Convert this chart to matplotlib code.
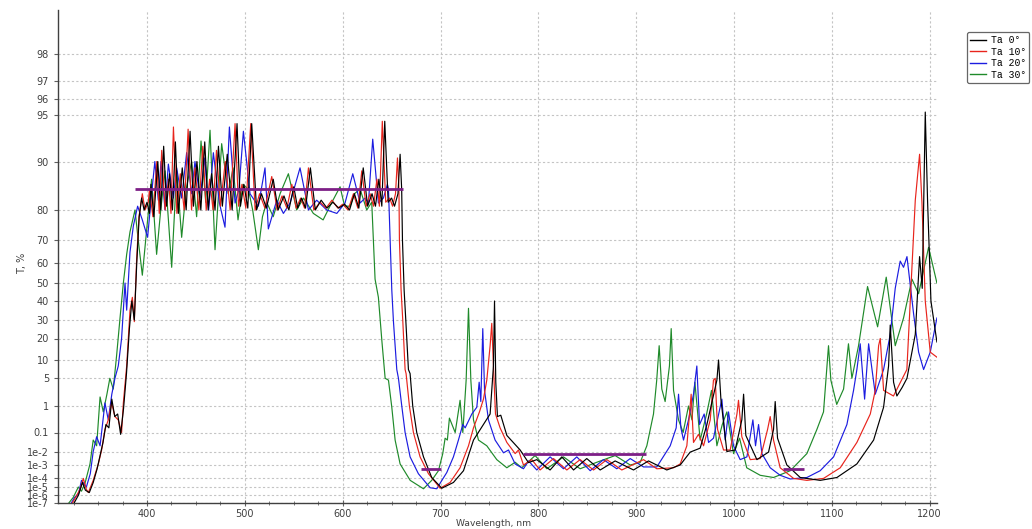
import numpy as np
import matplotlib
matplotlib.use("Agg")
import matplotlib.pyplot as plt
from matplotlib.lines import Line2D

# transmittance spectra (wavelength nm, T %)
ta0 = [(324, 5e-8), (330, 1e-6), (334, 3e-5), (337, 4e-6), (341, 2e-6), (345, 3e-5), (349, 5e-4),
       (352, 5e-3), (355, 0.03), (358, 0.2), (361, 0.15), (364, 1.5), (367, 0.4), (370, 0.5),
       (373, 0.08), (376, 0.8), (379, 6), (382, 25), (384.5, 40), (387, 30), (389.5, 60), (392, 78),
       (394.5, 83), (397, 80), (400, 82), (402.5, 79), (404, 86), (407, 78), (411, 90), (414, 80),
       (417, 92), (420, 81), (423, 88), (426, 80), (429, 92.5), (432, 79), (436, 89), (440, 80),
       (444, 93.6), (447.5, 81), (451, 90), (455, 80), (459, 92.5), (462.5, 80), (466, 88),
       (469.5, 80), (473, 92), (477, 81), (482, 91), (487, 80), (492, 94.3), (495.5, 81), (499, 86),
       (503, 80.5), (507, 94.3), (512, 80), (517, 84), (522, 80.5), (529, 87), (534, 80),
       (540, 83.5), (545, 80), (550, 85.5), (554, 80.5), (558, 83), (562, 80.5), (567, 89),
       (572, 80), (578, 82.5), (584, 80.5), (590, 82), (596, 80.5), (602, 81.5), (607, 80),
       (612, 84), (616.5, 80.5), (621, 89), (625.5, 81), (630, 84), (633.5, 81), (637, 87),
       (640, 81), (643, 94.5), (646.5, 82), (650, 83), (653, 81), (656.5, 84), (658.7, 91),
       (660.3, 85), (661.1, 70), (662.8, 46), (664.5, 30), (667.2, 7), (668.9, 6), (671.6, 1),
       (675.7, 0.1), (682.6, 4e-3), (691, 1e-4), (701.3, 7e-6), (713.2, 3e-5), (723.5, 3.5e-4),
       (733.7, 0.04), (743.9, 0.2), (750.7, 0.5), (754.1, 8), (755.2, 40), (756.5, 4), (758.2, 0.4),
       (761.6, 0.45), (767.8, 0.07), (781.4, 0.012), (789.9, 1.5e-3), (798.4, 2.5e-3), (812, 4e-4),
       (824, 4e-3), (836, 4e-4), (849.5, 3e-3), (863.2, 4e-4), (878.5, 2e-3), (897.3, 4e-4),
       (912.6, 2e-3), (931.3, 4e-4), (945, 1e-3), (955.2, 9e-3), (965.4, 0.015), (972.3, 0.2),
       (982.5, 4.5), (984.2, 10), (986.6, 1.5), (992.7, 0.01), (1001.2, 0.012), (1008, 0.3),
       (1009.8, 2), (1012.1, 0.07), (1023.4, 2.5e-3), (1035.3, 9e-3), (1040.4, 0.13), (1042.1, 1.3),
       (1044.5, 0.05), (1054, 1e-3), (1067.7, 1e-4), (1088.1, 5e-5), (1105.2, 1e-4),
       (1125.6, 1.2e-3), (1142.7, 0.04), (1152.9, 0.9), (1158, 8), (1159.7, 27), (1163.1, 4),
       (1166.5, 1.8), (1172, 3), (1176.8, 5), (1185.3, 22), (1189.7, 63), (1192.4, 47),
       (1195.5, 95.2), (1197.9, 82), (1201.3, 40), (1207.4, 18)]

ta10 = [(322, 5e-8), (327, 5e-7), (331.5, 5e-6), (334.9, 8e-5), (338, 5e-6), (340, 2e-6), (345, 5e-5),
        (350.2, 1.2e-3), (353.6, 0.012), (357, 0.13), (360.4, 0.3), (363.8, 1.2), (367.2, 0.4),
        (370.6, 0.3), (374, 0.1), (375.8, 1.2), (379.2, 8), (382.6, 35), (385, 42), (387, 29),
        (389.4, 62), (391.8, 78), (395.2, 84), (398, 80), (401.3, 82), (402.5, 85), (406, 78),
        (410, 90), (412.5, 79), (415, 91.5), (418.5, 80), (422, 87), (424.5, 79), (427, 94),
        (430.5, 79), (434, 88), (438, 80), (442, 93.8), (445.5, 80), (449, 89), (453, 80), (457, 92),
        (460.5, 80), (464, 87), (467.5, 80), (471, 91.5), (475, 81), (480, 90), (485, 80),
        (490, 94.3), (493.5, 81), (497, 86), (501, 80.5), (506, 94.3), (510.5, 80), (515, 84),
        (520.5, 80.5), (527.5, 87.5), (533, 80), (538, 83.5), (543, 80.5), (548, 86), (552.5, 80.5),
        (557, 83), (561, 80.5), (565, 89), (570.5, 80), (577, 82), (583, 80.5), (589, 82.5),
        (595, 80.5), (600, 81.5), (605.5, 80), (611, 84), (615.5, 80.5), (619.5, 88.5), (624, 81),
        (628, 84), (631.5, 81), (635, 87), (637.5, 81), (640.5, 94.5), (644, 82), (648, 83),
        (651, 81), (654, 84), (656, 90.5), (657.5, 85), (658, 70), (659.7, 46), (661.4, 30),
        (663.8, 7), (664.8, 6), (668.2, 1), (672.3, 0.1), (679.1, 4e-3), (687.7, 2e-4),
        (699.6, 7e-6), (709.8, 3e-5), (720, 6e-4), (728.6, 0.02), (733.7, 0.15), (739.8, 0.6),
        (743.9, 1.5), (747.3, 4.5), (750.7, 16), (752.4, 28), (754.1, 8), (756.2, 0.5),
        (760.9, 0.15), (767.8, 0.03), (776.3, 7e-3), (779.7, 0.012), (784.8, 1e-3), (793.3, 2.5e-3),
        (801.8, 4e-4), (815.5, 3e-3), (829.1, 4e-4), (842.7, 2.5e-3), (856.4, 4e-4), (870, 2.5e-3),
        (885.3, 4e-4), (907.5, 2.5e-3), (921.1, 5e-4), (938.2, 6e-4), (945, 1.2e-3), (951.8, 0.02),
        (956.2, 2), (958.6, 0.03), (963.7, 0.08), (968.9, 0.02), (975.7, 0.3), (979, 4.5),
        (980.8, 5), (983.2, 0.13), (989.3, 0.012), (996.1, 0.012), (1003, 0.5), (1004.6, 1.4),
        (1008, 0.06), (1016.6, 2.5e-3), (1026.8, 3e-3), (1034.3, 0.13), (1037, 0.4), (1040.4, 0.04),
        (1047.2, 6e-4), (1060.9, 8e-5), (1074.5, 5e-5), (1091.5, 8e-5), (1108.6, 6e-4),
        (1125.6, 0.03), (1139.3, 0.5), (1144.4, 2.5), (1147.8, 16), (1149.5, 20), (1152.9, 2.5),
        (1163, 1.8), (1176.7, 7), (1180.2, 40), (1185.3, 82.5), (1189.7, 91), (1192.1, 82),
        (1195.5, 40), (1200.6, 13), (1207.4, 11)]

ta20 = [(321, 5e-8), (326, 5e-7), (330, 1.5e-6), (333, 5e-5), (338, 1e-5), (342, 2e-4), (345, 0.01),
        (348.5, 0.06), (352, 0.02), (357, 1.2), (360.4, 0.3), (364, 2), (367.2, 5), (370.6, 8),
        (374, 20), (377.5, 50), (379.2, 35), (382.6, 65), (386, 75), (390.4, 81), (395.2, 77),
        (400.6, 71), (404.7, 84), (408, 90), (411.5, 82.5), (414.3, 90), (418.4, 80), (421.8, 89.6),
        (426.9, 83), (430.3, 89), (435.4, 83), (440.5, 91.2), (445.6, 84), (449, 90), (454.2, 83),
        (459, 90.5), (463, 80), (467.8, 91.2), (474, 81.8), (479.7, 74.6), (484.2, 94), (490, 81.8),
        (494, 85), (498.5, 93.6), (505.3, 84), (513.8, 81), (520.6, 89), (524, 74), (532.6, 82.5),
        (539.4, 79), (546.2, 81.8), (556.4, 89), (565, 80), (573.4, 82.5), (583.7, 80), (594, 79),
        (602.4, 81.8), (610.3, 88), (617.8, 81.8), (622.9, 83), (626.3, 81.8), (630.7, 92.8),
        (636.5, 81.8), (641.6, 83), (645.7, 86), (646.8, 85), (648.5, 70), (650.2, 46), (651.9, 29),
        (655.3, 7), (657, 5), (660.4, 1), (663.8, 0.1), (668.9, 4e-3), (677.4, 2e-4), (689.4, 8e-6),
        (696.2, 6e-6), (699.6, 2.5e-5), (706.4, 2.5e-4), (713.2, 4e-3), (718.3, 0.04), (722.8, 0.2),
        (725.2, 0.15), (732, 0.5), (737.1, 0.9), (739.5, 4), (741.2, 1.3), (743.2, 25), (745, 2.5),
        (749, 0.3), (755.8, 0.04), (764.4, 8e-3), (769.5, 0.012), (776.3, 1.2e-3), (784.8, 5e-4),
        (790, 2e-3), (798.4, 4e-4), (812, 4e-3), (825.7, 5e-4), (839.3, 4e-3), (853, 3.5e-4),
        (866.6, 2.5e-3), (880.2, 5e-4), (893.9, 3e-3), (907.5, 7e-4), (921.1, 7e-4), (934.8, 0.02),
        (940.9, 0.15), (943.3, 2), (945.7, 0.15), (948.4, 0.04), (953.5, 0.3), (958.6, 2), (962, 8),
        (964.8, 0.2), (969.5, 0.5), (974, 0.03), (979, 0.05), (987.6, 1.5), (991, 0.04),
        (994.4, 0.6), (999.5, 0.02), (1006.3, 2.5e-3), (1013.2, 4e-3), (1019.3, 0.3), (1022, 0.02),
        (1025.1, 0.2), (1028.5, 7e-3), (1037, 6e-4), (1047.2, 1.5e-4), (1057.5, 7e-5),
        (1074.5, 1e-4), (1088.1, 3.5e-4), (1101.8, 4e-3), (1115.4, 0.2), (1122.2, 2.5),
        (1125.6, 7), (1129, 17), (1133.5, 1.5), (1137.6, 17), (1144.4, 2), (1152.9, 7),
        (1159.7, 22), (1164.8, 47), (1169.9, 61), (1173.3, 58), (1176.8, 63), (1183.6, 33),
        (1188.7, 13), (1193.8, 7), (1200.6, 13), (1207.4, 31)]

ta30 = [(318, 5e-8), (324.6, 5e-7), (329.8, 1e-5), (333, 3e-6), (336.6, 2.5e-5), (341.7, 1.2e-3),
        (345, 0.04), (348.5, 0.02), (352, 1.7), (355.3, 0.6), (359, 2), (362, 5), (365.5, 2.7),
        (369, 12), (372.4, 31), (375.8, 50), (379.2, 64), (382.6, 73), (387.7, 80), (391, 70),
        (395.2, 54), (400, 75), (404.7, 87), (409.8, 64), (414, 80), (418.4, 88.5), (425.2, 58),
        (430.3, 88.5), (435.4, 71), (440, 85), (445.6, 90), (450.7, 78), (455.2, 92.6), (460, 82),
        (464.4, 93.7), (469.5, 66), (476.3, 92.3), (483, 84), (488, 89), (493, 77), (498, 86),
        (503.6, 85), (508, 80), (513.8, 66), (518, 78), (522.3, 82), (529, 78), (536, 84),
        (544.5, 88), (553, 80), (560, 83), (570, 79), (580, 77), (589, 82), (597.3, 85.5),
        (602, 81), (607.5, 81), (612, 84), (617.8, 85), (624.6, 80), (629.7, 82), (631.4, 70),
        (633.1, 52), (636.5, 42), (640, 19), (643.4, 5), (646.8, 4.5), (650.2, 0.9), (653.6, 0.04),
        (658.7, 1.2e-3), (669, 5e-5), (682.6, 6e-6), (691, 5e-5), (697.9, 3.5e-4), (702.3, 7e-3),
        (704.7, 0.05), (707, 0.04), (709.1, 0.35), (715, 0.1), (720, 1.4), (722.8, 0.1),
        (726.2, 4.5), (728.6, 36), (731, 4.5), (733.7, 0.3), (738.8, 0.04), (747.3, 0.02),
        (757.5, 2.5e-3), (767.8, 6e-4), (776.3, 1.6e-3), (783, 6e-4), (796.7, 5e-3), (808.7, 5e-4),
        (825.7, 4e-3), (842.7, 5e-4), (859.8, 1.6e-3), (878.5, 5e-3), (893.9, 1e-3), (904, 1.5e-3),
        (910.9, 0.02), (917.7, 0.5), (921, 4.5), (923.5, 16), (926.2, 2.7), (929.6, 1.3), (934, 8),
        (935.8, 25), (938.2, 2.5), (943.3, 0.3), (948, 0.1), (953.5, 1), (957, 0.3), (960, 4),
        (965.4, 0.04), (972, 0.5), (977, 2.5), (982.5, 0.02), (988, 0.2), (992.7, 0.6),
        (999.5, 7e-3), (1005.7, 0.05), (1013, 6e-4), (1026.8, 1.5e-4), (1040.4, 1e-4),
        (1057.5, 3.5e-4), (1074.5, 7e-3), (1084.7, 0.13), (1091.5, 0.6), (1095, 8), (1096.6, 16),
        (1099, 4.5), (1105, 1.1), (1112, 2.7), (1117, 17), (1120.5, 5), (1127.3, 16),
        (1136.5, 48), (1146.8, 26), (1155.6, 53), (1164.8, 16), (1173.3, 31), (1181.9, 52),
        (1188.7, 44), (1198.9, 67), (1207.4, 50)]

# design targets (start nm, end nm, T %)
targets = [(388, 662, 85), (680, 701, 5e-4), (784, 910, 6e-3), (1050, 1072, 5e-4)]

labels = ["Ta 0°", "Ta 10°", "Ta 20°", "Ta 30°"]
colors = ["#000000", "#e8241c", "#1c1ce0", "#1f8a2a"]

ytick_vals = [1e-7, 1e-6, 1e-5, 1e-4, 1e-3, 1e-2, 0.1, 1, 5, 10, 20, 30, 40, 50, 60, 70, 80, 90, 95, 96, 97, 98]
ytick_labels = ["1e-7", "1e-6", "1e-5", "1e-4", "1e-3", "1e-2", "0.1", "1", "5", "10", "20", "30",
                "40", "50", "60", "70", "80", "90", "95", "96", "97", "98"]

# the instrument's T axis is a stretched logit scale; map value -> screen row
scale_t = [1e-9, 1e-7, 1e-6, 1e-5, 1e-4, 1e-3, 1e-2, 0.1, 1, 5, 10, 20, 30, 40, 50, 60, 70, 80, 90,
           95, 96, 97, 98, 99, 99.9]
scale_row = [520, 503, 495, 487, 477.5, 465, 451.5, 432.5, 406, 378.3, 360, 338.5, 320, 301, 283,
             263.3, 240, 210, 161.5, 115, 99, 81, 54, 10, -100]


def logit(t):
    p = np.clip(np.asarray(t, dtype=float) / 100.0, 1e-13, 1 - 1e-6)
    return np.log10(p / (1 - p))


scale_l = logit(scale_t)
scale_r = -np.array(scale_row, dtype=float)


def fwd(t):
    return np.interp(logit(t), scale_l, scale_r)


def inv(v):
    l = np.interp(np.asarray(v, dtype=float), scale_r, scale_l)
    return 100 * 10 ** l / (1 + 10 ** l)


W, H = 1032, 529
fig = plt.figure(figsize=(W / 100, H / 100), dpi=100)
ax = fig.add_axes([58 / W, (H - 503) / H, 879 / W, 493 / H])
ax.set_yscale("function", functions=(fwd, inv))

for wl0, wl1, t in targets:
    ax.plot([wl0, wl1], [t, t], color="#7d1f86", lw=2, zorder=5, solid_capstyle="butt")

for data, c, z in zip([ta30, ta20, ta10, ta0], colors[::-1], [2, 3, 4, 4.5]):
    wl, t = np.array(data).T
    ax.plot(wl, t, color=c, lw=0.85, zorder=z)

ax.set_xlim(309, 1207.5)
ax.set_ylim(1e-7, 99)
ax.set_xticks(range(400, 1201, 100))
ax.set_xticks(range(325, 1206, 25), minor=True)
ax.set_yticks(ytick_vals)
ax.set_yticklabels(ytick_labels)
ax.yaxis.set_minor_locator(matplotlib.ticker.NullLocator())

ax.grid(True, which="major", color="#c4c4c4", linestyle=(0, (2, 2)), linewidth=0.8)
ax.set_axisbelow(True)
for s in ["top", "right"]:
    ax.spines[s].set_visible(False)
for s in ["left", "bottom"]:
    ax.spines[s].set_color("#404040")
    ax.spines[s].set_linewidth(1.0)
ax.tick_params(axis="both", which="major", labelsize=7, labelcolor="#404040", color="#606060",
               length=3, width=0.8)
ax.tick_params(axis="x", which="major", direction="inout", length=5, pad=2)
ax.tick_params(axis="x", which="minor", direction="inout", length=3, width=0.6, color="#606060")

fig.text(494 / W, 1 - 524 / H, "Wavelength, nm", ha="center", va="center", fontsize=6.6, color="#404040")
fig.text(22 / W, 1 - 263 / H, "T, %", ha="center", va="center", rotation=90, fontsize=7, color="#404040")

handles = [Line2D([], [], color=c, lw=1) for c in colors]
leg = fig.legend(handles, labels, loc="upper left", bbox_to_anchor=(967 / W, 1 - 32 / H),
                 prop={"family": "Liberation Mono", "size": 7}, frameon=True, fancybox=True,
                 handlelength=1.6, handletextpad=0.5, borderpad=0.35, labelspacing=0.15,
                 borderaxespad=0)
leg.get_frame().set_edgecolor("#404040")
leg.get_frame().set_linewidth(0.9)

fig.savefig("out.png", dpi=100)
